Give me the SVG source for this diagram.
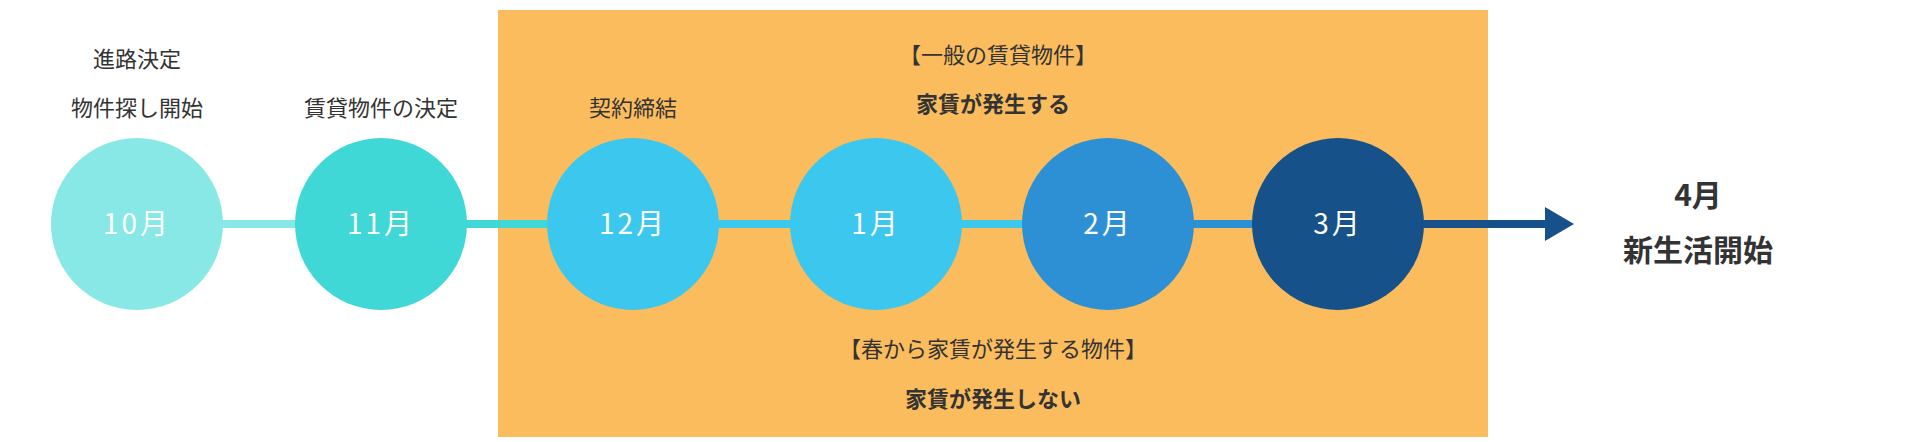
<svg xmlns="http://www.w3.org/2000/svg" width="1920" height="442" viewBox="0 0 1920 442">
<style>
text{font-family:"Noto Sans CJK JP","Noto Sans",sans-serif;text-anchor:middle;fill:#333}
.l{font-size:22px}
.b{font-size:22px;font-weight:bold}
.c{font-size:28px;fill:#fff;letter-spacing:3px}
.e{font-size:30px;font-weight:bold}
</style>
<defs><marker id="ah" markerWidth="10" markerHeight="10" refX="8" refY="5" orient="auto" markerUnits="userSpaceOnUse"><path d="M0,0 L10,5 L0,10 z" fill="#16518A"/></marker></defs>
<rect x="0" y="0" width="1920" height="442" fill="#fff"/>
<rect id="period" x="498" y="10" width="990" height="427" fill="#FBBC5E"/>
<g id="connectors" stroke-width="8">
<line x1="137" y1="224" x2="381" y2="224" stroke="#88E8E6"/>
<line x1="381" y1="224" x2="633" y2="224" stroke="#40D8D6"/>
<line x1="633" y1="224" x2="1108" y2="224" stroke="#3CC8EE"/>
<line x1="1108" y1="224" x2="1338" y2="224" stroke="#2E90D4"/>
<line x1="1338" y1="224" x2="1545" y2="224" stroke="#16518A"/>
<path d="M1545,207 L1574,224 L1545,241 z" fill="#16518A" stroke="none"/>
</g>
<g id="n10"><circle cx="137" cy="224" r="86" fill="#88E8E6"/><text class="c" x="137" y="234">10月</text></g>
<g id="n11"><circle cx="381" cy="224" r="86" fill="#40D8D6"/><text class="c" x="381" y="234">11月</text></g>
<g id="n12"><circle cx="633" cy="224" r="86" fill="#3CC8EE"/><text class="c" x="633" y="234">12月</text></g>
<g id="n1"><circle cx="876" cy="224" r="86" fill="#3CC8EE"/><text class="c" x="876" y="234">1月</text></g>
<g id="n2"><circle cx="1108" cy="224" r="86" fill="#2E90D4"/><text class="c" x="1108" y="234">2月</text></g>
<g id="n3"><circle cx="1338" cy="224" r="86" fill="#16518A"/><text class="c" x="1338" y="234">3月</text></g>
<g id="labels">
<text class="l" x="137" y="67">進路決定</text>
<text class="l" x="137" y="116">物件探し開始</text>
<text class="l" x="381" y="116">賃貸物件の決定</text>
<text class="l" x="633" y="116">契約締結</text>
<text class="l" x="998" y="63">【一般の賃貸物件】</text>
<text class="b" x="993" y="112">家賃が発生する</text>
<text class="l" x="993" y="357">【春から家賃が発生する物件】</text>
<text class="b" x="993" y="407">家賃が発生しない</text>
<text class="e" x="1698" y="206">4月</text>
<text class="e" x="1698" y="261">新生活開始</text>
</g>
</svg>
